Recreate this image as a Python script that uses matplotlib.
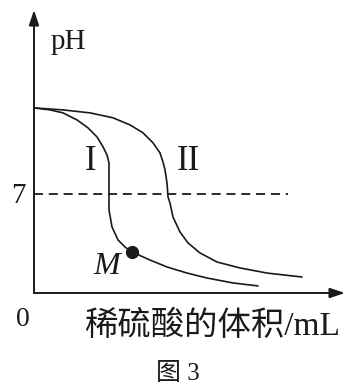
import matplotlib
matplotlib.use("Agg")
import matplotlib.pyplot as plt

# volume of dilute H2SO4 (mL, arbitrary scale) and pH
vol_1 = [0, 1.6, 2.9, 4.3, 5.4, 6.3, 6.9, 7.3, 7.5, 7.5, 7.5, 7.8, 8.4, 9.1, 9.8,
         11.6, 13.3, 15.3, 17.3, 19.9, 22.4]
ph_1 = [13.08, 12.94, 12.73, 12.23, 11.67, 11.03, 10.33, 9.76, 9.19, 7.99, 5.87, 4.67,
        3.75, 3.25, 2.90, 2.33, 1.84, 1.41, 1.06, 0.71, 0.50]
vol_2 = [0, 2.9, 5.6, 7.9, 9.6, 10.9, 11.9, 12.6, 12.9, 13.1, 13.3, 13.4, 13.6, 13.9,
         14.6, 15.4, 16.6, 18.3, 20.6, 23.3, 26.8]
ph_2 = [13.08, 12.94, 12.73, 12.38, 11.88, 11.32, 10.61, 9.90, 9.26, 8.70, 7.78, 6.79,
        6.36, 5.37, 4.31, 3.54, 2.83, 2.19, 1.77, 1.41, 1.13]
point_m = (9.8, 2.9)
neutral_ph = 7
dash_end = 25.4
x_max, y_max = 31.1, 20.0

SERIF = ["Liberation Serif", "Noto Sans CJK SC"]
INK = "#1a1a1a"

fig = plt.figure(figsize=(3.49, 3.91), dpi=100)
ax = fig.add_axes([34 / 349, 1 - 293 / 391, 311 / 349, 283 / 391])
ax.set_xlim(0, x_max)
ax.set_ylim(0, y_max)
ax.axis("off")

# axes with arrow heads
arrow = dict(arrowstyle="-|>,head_length=0.9,head_width=0.3", color=INK, lw=1.4,
             shrinkA=0, shrinkB=0)
ax.annotate("", xy=(0, y_max), xytext=(0, 0), arrowprops=arrow, annotation_clip=False)
ax.annotate("", xy=(x_max, 0), xytext=(0, 0), arrowprops=arrow, annotation_clip=False)

ax.plot([0, dash_end], [neutral_ph, neutral_ph], ls=(0, (5, 3.2)), lw=1.3, color=INK)
ax.plot(vol_1, ph_1, color=INK, lw=1.2, solid_capstyle="round", solid_joinstyle="round")
ax.plot(vol_2, ph_2, color=INK, lw=1.2, solid_capstyle="round", solid_joinstyle="round")
ax.plot(*point_m, "o", ms=8.5, color=INK, clip_on=False)

ax.text(3.4, 17.75, "pH", family=SERIF, fontsize=21, ha="center", va="center", color=INK)
ax.text(-0.85, 6.85, "7", family=SERIF, fontsize=21, ha="right", va="center", color=INK)
ax.text(-1.1, -1.9, "0", family=SERIF, fontsize=20, ha="center", va="center", color=INK)
ax.text(5.7, 9.3, "I", family=SERIF, fontsize=25, ha="center", va="center", color=INK)
ax.text(15.4, 9.3, "II", family=SERIF, fontsize=25, ha="center", va="center", color=INK)
ax.text(7.3, 1.85, "M", family=SERIF, fontsize=23, style="italic", ha="center", va="center",
        color=INK)
ax.text(17.8, -2.35, "稀硫酸的体积/mL", family=SERIF, fontsize=24, ha="center", va="center",
        color=INK)

fig.text(178 / 349, 1 - 374 / 391, "图 3", family=SERIF, fontsize=18, ha="center",
         va="center", color=INK)

fig.savefig("out.png", dpi=100)
